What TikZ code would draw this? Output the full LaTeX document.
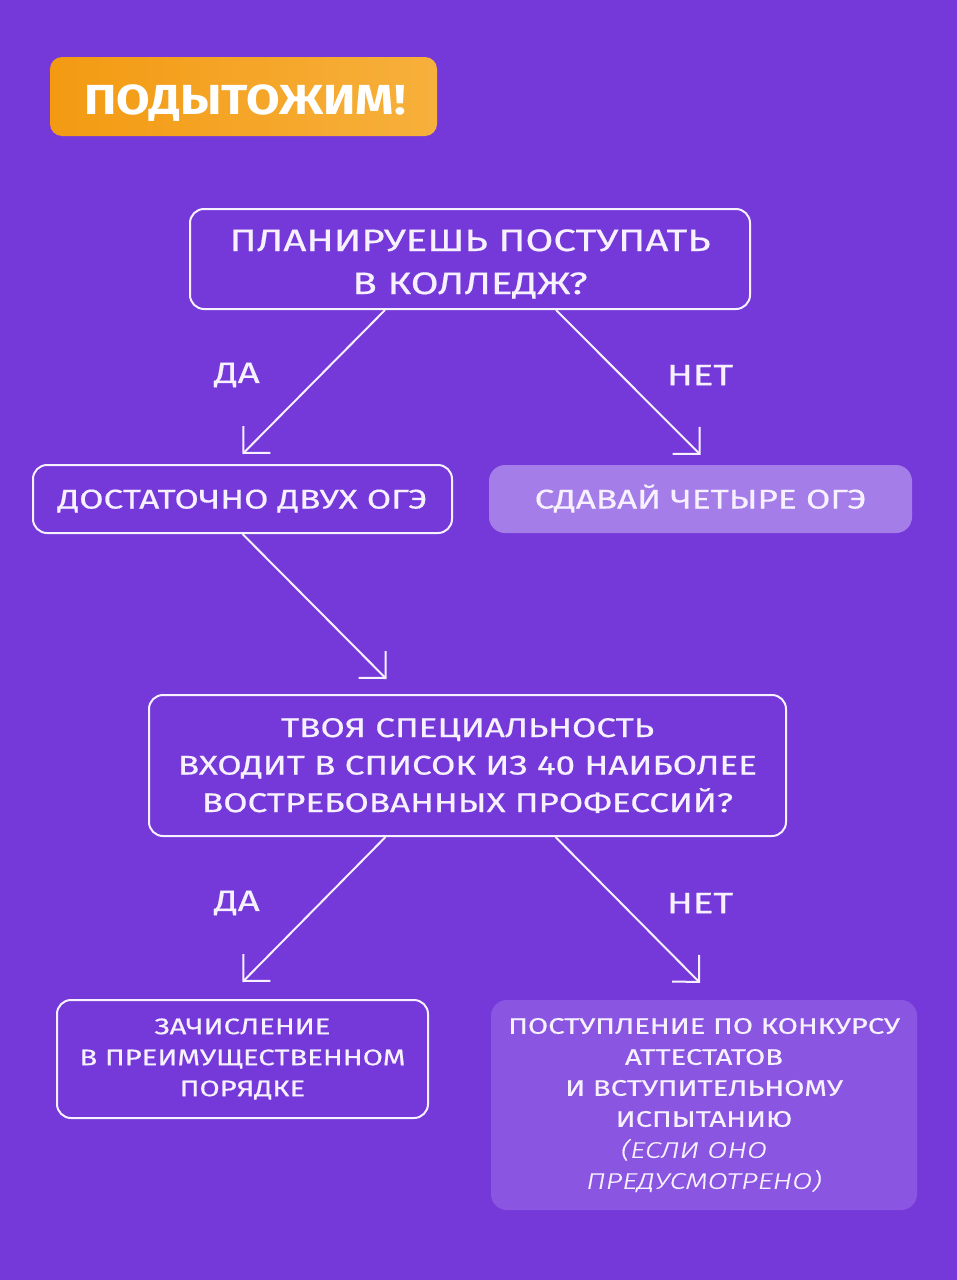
\documentclass[tikz,border=0pt]{standalone}
\usepackage{fontspec}
\setmainfont{Fira Sans}[FakeStretch=1.3, FakeBold=0.6, ItalicFont={Fira Sans Light Italic}, BoldFont={Fira Sans Bold}]
\newfontfamily\titlefont{Fira Sans Bold}[FakeStretch=1.16]
\usetikzlibrary{arrows.meta}

\definecolor{bgpurple}{HTML}{7539D9}
\definecolor{lilac}{HTML}{A47DE9}
\definecolor{violet}{HTML}{8A55E0}
\definecolor{orangeL}{HTML}{F39A12}
\definecolor{orangeR}{HTML}{F7B03C}
\definecolor{softwhite}{HTML}{F6F0FF}

\newcommand{\nodepth}[1]{\raisebox{0pt}[\height][0pt]{#1}}
\newcommand{\padtop}{\rule{0pt}{27pt}}

\tikzset{
  qbox/.style={draw=softwhite, line width=2pt, rounded corners=14pt, align=center, text=softwhite, inner sep=0pt},
  fbox/.style={fill=#1, rounded corners=16pt, align=center, text=softwhite, inner sep=0pt},
  conn/.style={softwhite, line width=2pt, -{Straight Barb[length=19pt, width=38pt, line width=2pt]}},
  lbl/.style={text=softwhite, font=\fontsize{29.5}{36}\selectfont}
}

\begin{document}
\begin{tikzpicture}[x=1pt, y=-1pt]
    \fill[bgpurple] (0,0) rectangle (957,1280);

    \node[left color=orangeL, right color=orangeR, rounded corners=12pt, minimum width=387pt, minimum height=79pt, inner sep=0pt, text height=36pt, text depth=0pt, text=white, font=\fontsize{42}{50}\titlefont] (title) at (243.5,96.5) {\kern3pt ПОДЫТОЖИМ!};

    \node[qbox, minimum width=560pt, minimum height=100pt, font=\fontsize{31}{43}\selectfont] (plan) at (470,259) {\padtop ПЛАНИРУЕШЬ ПОСТУПАТЬ\\\nodepth{В КОЛЛЕДЖ?}};
    \node[qbox, minimum width=419pt, minimum height=68pt, text height=19pt, text depth=0pt, font=\fontsize{27}{32}\selectfont] (two) at (242.5,499) {ДОСТАТОЧНО ДВУХ ОГЭ};
    \node[fbox=lilac, minimum width=423pt, minimum height=68pt, text height=19pt, text depth=0pt, font=\fontsize{27}{32}\selectfont] (four) at (700.5,499) {СДАВАЙ ЧЕТЫРЕ ОГЭ};
    \node[qbox, minimum width=637pt, minimum height=141pt, font=\fontsize{27}{37.5}\selectfont] (spec) at (467.5,765.5) {ТВОЯ СПЕЦИАЛЬНОСТЬ\\ВХОДИТ В СПИСОК ИЗ 40 НАИБОЛЕЕ\\ВОСТРЕБОВАННЫХ ПРОФЕССИЙ?};
    \node[qbox, minimum width=371pt, minimum height=118pt, font=\fontsize{22.5}{31}\selectfont] (priority) at (242.5,1059) {ЗАЧИСЛЕНИЕ\\В ПРЕИМУЩЕСТВЕННОМ\\ПОРЯДКЕ};
    \node[fbox=violet, minimum width=426pt, minimum height=210pt, font=\fontsize{22.5}{31}\selectfont] (contest) at (704,1105) {ПОСТУПЛЕНИЕ ПО КОНКУРСУ\\АТТЕСТАТОВ\\И ВСТУПИТЕЛЬНОМУ\\ИСПЫТАНИЮ\\\itshape (ЕСЛИ ОНО\kern20pt\\\itshape ПРЕДУСМОТРЕНО)};

    % yes / no
    \draw[conn] ([xshift=-85pt]plan.south) -- ([yshift=10pt]two.north);
    \draw[conn] ([xshift=86pt]plan.south) -- ([yshift=10pt]four.north);
    \node[lbl] (yes1) at (237,375) {ДА};
    \node[lbl] (no1) at (700,375) {НЕТ};

    \draw[conn] (two.south) -- ([xshift=-81pt, yshift=15pt]spec.north);

    \draw[conn] ([xshift=-82pt]spec.south) -- ([yshift=17pt]priority.north);
    \draw[conn] ([xshift=88pt]spec.south) -- ([xshift=-4pt, yshift=17pt]contest.north);
    \node[lbl] (yes2) at (237,903) {ДА};
    \node[lbl] (no2) at (700,903) {НЕТ};
\end{tikzpicture}
\end{document}
